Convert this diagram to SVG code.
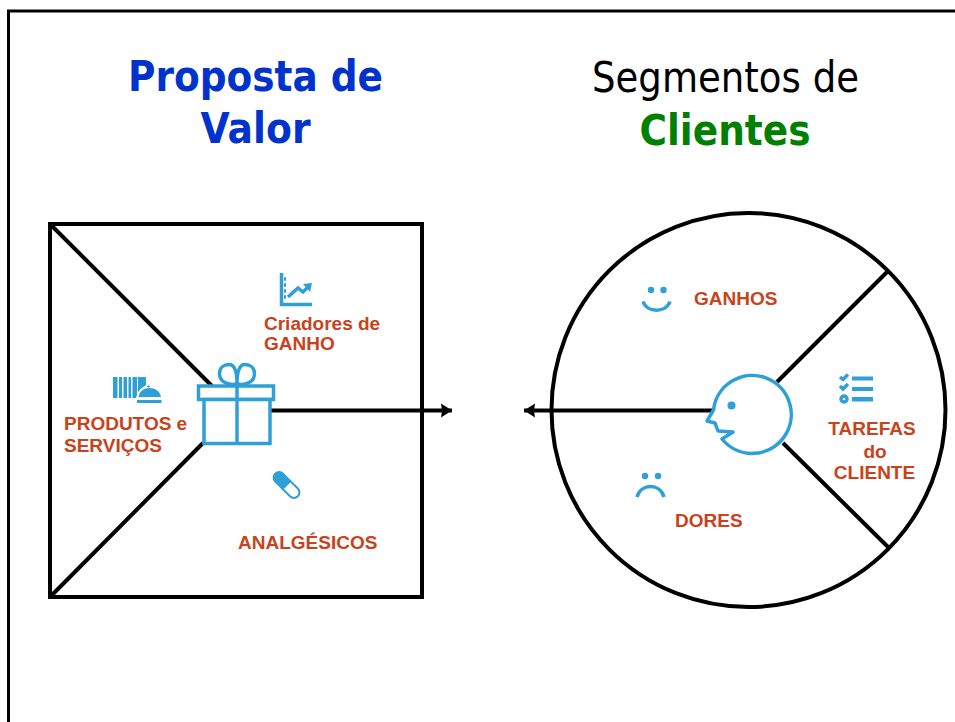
<svg xmlns="http://www.w3.org/2000/svg" width="955" height="722" viewBox="0 0 955 722">
<style>
.t{font-family:"DejaVu Sans",sans-serif;font-size:42.5px;text-anchor:middle}
.b{font-weight:bold}
.l{font-family:"Liberation Sans",Arial,sans-serif;font-size:19px;font-weight:bold;fill:#c8431c}
.m{text-anchor:middle}
.k{fill:none;stroke:#000;stroke-width:4}
.i{fill:none;stroke:#2f9fd8;stroke-width:3.5}
.f{fill:#2f9fd8}
</style>
<defs><marker id="a" markerUnits="userSpaceOnUse" markerWidth="12" markerHeight="16" refX="11" refY="8" orient="auto-start-reverse"><path d="M0 1L11 8L0 15L1 8Z" fill="#000"/></marker></defs>
<rect width="955" height="722" fill="#fff"/>
<path d="M8.500 722V11H955" fill="none" stroke="#000" stroke-width="3"/>
<g id="title-valor"><text class="t b" x="255.500" y="91" fill="#0033cc" textLength="255" lengthAdjust="spacingAndGlyphs">Proposta de</text><text class="t b" x="255.500" y="143" fill="#0033cc" textLength="110" lengthAdjust="spacingAndGlyphs">Valor</text></g>
<g id="title-clientes"><text class="t" x="725.500" y="92" textLength="267" lengthAdjust="spacingAndGlyphs">Segmentos de</text><text class="t b" x="725" y="145" fill="#008000" textLength="171" lengthAdjust="spacingAndGlyphs">Clientes</text></g>
<g id="connectors">
<path class="k" d="M271 410.500H452" marker-end="url(#a)"/>
<path class="k" d="M712 410.500H524" marker-end="url(#a)"/>
<path class="k" d="M51 225L212 386M203 443L51 596"/>
<path class="k" d="M777 382L889 270M783 443L889 548"/>
</g>
<g id="value-square"><rect class="k" x="50" y="224" width="372" height="373"/></g>
<g id="customer-circle"><circle class="k" cx="748.500" cy="410" r="197"/></g>
<g id="gift"><path class="i" d="M237 384C225 386 219.500 380 219.500 373.500C219.500 367.500 224 364.500 229 364.500C234 364.500 237 369 237 384C237 369 240 364.500 245 364.500C250 364.500 254.500 367.500 254.500 373.500C254.500 380 249 386 237 384Z"/><rect x="198.500" y="386" width="75" height="13.500" fill="#fff" stroke="#2f9fd8" stroke-width="3.500"/><rect x="204" y="399.500" width="66" height="44" fill="#fff" stroke="#2f9fd8" stroke-width="3.500"/><path class="i" d="M237 384V444" stroke-width="4"/></g>
<g id="face"><path d="M713.500 410A39 39 0 1 1 722 439L733 432L718 431L715 423L707 421Z" fill="#fff" stroke="#2f9fd8" stroke-width="3.500" stroke-linejoin="round"/><circle class="f" cx="731.500" cy="405.500" r="4"/></g>
<g id="ganho"><path class="i" d="M281.500 273V304.500H312" stroke-width="3"/><path class="i" d="M284 279H286M284 285H286M284 291H286M284 297H286" stroke-width="1.200"/><path class="i" d="M288 297L298 288L303 292L309 286" stroke-width="2.500"/><path class="f" d="M303 284L312 283L310 292Z"/><text class="l" x="264" y="330">Criadores de</text><text class="l" x="264" y="350">GANHO</text></g>
<g id="produtos"><path class="f" d="M113 377H117.500V398H113ZM119 377H122V398H119ZM123.500 377H127V398H123.500ZM128.500 377H131V398H128.500ZM132.500 377H137V398H132.500ZM138 377H146V385L138 396Z"/><path d="M136 398C138 389 144 385 150 385C156 385 160 390 163 398Z" fill="#fff"/><path class="f" d="M138.500 397C139.500 391 144 388 149.500 388C155 388 160 391 161 397ZM137 400H161.500V403H137Z"/><circle class="f" cx="148.500" cy="386.500" r="1.200"/><text class="l" x="64" y="430">PRODUTOS e</text><text class="l" x="64" y="452">SERVIÇOS</text></g>
<g id="analgesicos"><g transform="translate(286.500 485) rotate(45)"><path d="M0 -5.500H10.500A5.500 5.500 0 0 1 10.500 5.500H0Z" fill="#fff" stroke="#2f9fd8" stroke-width="2"/><path class="f" d="M0 -6.500H-10.500A6.500 6.500 0 0 0 -10.500 6.500H0Z"/></g><text class="l" x="238" y="549">ANALGÉSICOS</text></g>
<g id="ganhos"><circle class="f" cx="651" cy="290" r="3.200"/><circle class="f" cx="663.500" cy="290" r="3.200"/><path class="i" d="M643 301.500C647 313 666 313 670 301.500" stroke-width="2.500"/><text class="l" x="694" y="305">GANHOS</text></g>
<g id="tarefas"><path class="i" d="M840 377L843 379.500L848 374.500M840 386L843 389L848 384" stroke-width="1.800"/><circle class="i" cx="844" cy="399" r="3" stroke-width="1.800"/><path class="f" d="M852 376.500H873V380.500H852ZM852 387H873V391H852ZM852 397H873V401.500H852Z"/><text class="l m" x="872" y="435">TAREFAS</text><text class="l m" x="875" y="458">do</text><text class="l m" x="874.500" y="479">CLIENTE</text></g>
<g id="dores"><circle class="f" cx="645" cy="476" r="3.200"/><circle class="f" cx="658" cy="476" r="3.200"/><path class="i" d="M637 497C641 483 660 483 664 497" stroke-width="2.500"/><text class="l" x="675" y="527">DORES</text></g>
</svg>
